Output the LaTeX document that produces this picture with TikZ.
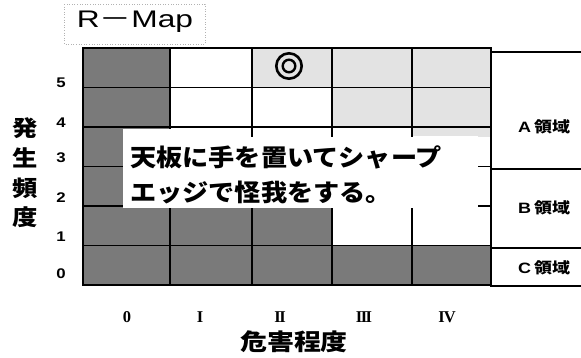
\documentclass[tikz,border=0pt]{standalone}
\usepackage{fontspec}
\usepackage{graphicx}
\setmainfont{Liberation Serif}
\newfontfamily\jp{Noto Sans CJK JP}
\newfontfamily\ar{Liberation Sans}
\newcommand\wx[2]{\scalebox{#1}[1]{#2}}
\tikzset{
  darkcell/.style={fill=black!52, draw=none},
  lightcell/.style={fill=black!11, draw=none},
  gridline/.style={line width=1.8pt, line cap=rect},
  ynum/.style={font=\ar\bfseries\fontsize{14}{14}\selectfont, inner sep=0},
  xnum/.style={font=\bfseries\fontsize{16.5}{16.5}\selectfont, inner sep=0},
  vlab/.style={font=\jp\bfseries\fontsize{22}{22}\selectfont, inner sep=0},
  reglab/.style={font=\bfseries\fontsize{15}{15}\selectfont, inner sep=0},
}
\begin{document}
\begin{tikzpicture}[x=1pt, y=-1pt]
\useasboundingbox (0,0) rectangle (581,357);
% title
\draw[black!30, dotted, line width=0.6pt] (64,4) rectangle (205,44);
\node (title) at (135,22) {\wx{1.32}{\ar\fontsize{24}{24}\selectfont R{\jp －}Map}};
% cells: column 0
\fill[darkcell] (83,48) rectangle (170,285);
% columns I-IV rows 1 and 0
\fill[darkcell] (170,206) rectangle (332,285);
\fill[darkcell] (332,245.5) rectangle (491,285);
% light cells
\fill[lightcell] (252,48) rectangle (491,87.5);
\fill[lightcell] (332,87.5) rectangle (491,127);
\fill[lightcell] (412,127) rectangle (491,137);
% grid lines
\foreach \xx in {83,170,252,332,412,491}
  \draw[gridline] (\xx,48) -- (\xx,285);
\foreach \yy in {48,87.5,127,166.5,206,245.5,285}
  \draw[gridline] (83,\yy) -- (491,\yy);
% white label box
\fill[white] (123,129) rectangle (478,208);
\fill[lightcell] (413,129) rectangle (490,136);
\foreach \xx in {252,332,412}
  \draw[gridline] (\xx,127) -- (\xx,136);
\fill[white] (333,207) rectangle (411,244.5);
\fill[white] (413,207) rectangle (478,244.5);
\node[font=\jp\bfseries\fontsize{24}{35}\selectfont, align=left, anchor=west, inner sep=0] (hazard) at (130,175)
  {\wx{1.09}{天板に手を置いてシャープ}\\\wx{1.09}{エッジで怪我をする。}};
% double circle mark
\node[circle, draw, line width=2.6pt, minimum size=25.4pt, inner sep=0] (dblout) at (289,66) {};
\node[circle, draw, line width=2.4pt, minimum size=12.6pt, inner sep=0] (dblin) at (dblout.center) {};
% right region
\coordinate (ra0) at (491,52);  \coordinate (ra1) at (581,52);
\coordinate (rb0) at (491,169); \coordinate (rb1) at (581,169);
\coordinate (rc0) at (491,248); \coordinate (rc1) at (581,248);
\coordinate (rd0) at (491,286); \coordinate (rd1) at (581,286);
\draw[gridline] (ra0) -- (ra1);
\draw[gridline] (rb0) -- (rb1);
\draw[gridline] (rc0) -- (rc1);
\draw[gridline] (rd0) -- (rd1);
\draw[gridline] (491,48) -- (rd0);
\node[reglab] (regA) at (544,126.5) {\wx{1.2}{\ar A\,{\jp 領域}}};
\node[reglab] (regB) at (544,208) {\wx{1.2}{\ar B\,{\jp 領域}}};
\node[reglab] (regC) at (544,268) {\wx{1.2}{\ar C\,{\jp 領域}}};
% y axis numbers
\node[ynum] (y5) at (61,83) {\wx{1.2}{5}};
\node[ynum] (y4) at (61,123) {\wx{1.2}{4}};
\node[ynum] (y3) at (61,158) {\wx{1.2}{3}};
\node[ynum] (y2) at (61,198) {\wx{1.2}{2}};
\node[ynum] (y1) at (61,237) {\wx{1.2}{1}};
\node[ynum] (y0) at (61,274) {\wx{1.2}{0}};
% y axis label
\node[vlab] (v1) at (25,128) {\wx{1.15}{発}};
\node[vlab] (v2) at (25,158) {\wx{1.15}{生}};
\node[vlab] (v3) at (25,188) {\wx{1.15}{頻}};
\node[vlab] (v4) at (25,217) {\wx{1.15}{度}};
% x axis numerals
\node[xnum] (x0) at (127,317) {0};
\node[xnum] (x1) at (200,317) {I};
\node[xnum] (x2) at (280,317) {I\kern-1.5pt I};
\node[xnum] (x3) at (364,317) {I\kern-1.5pt I\kern-1.5pt I};
\node[xnum] (x4) at (447,317) {I\kern-1pt V};
\node[font=\jp\bfseries\fontsize{23}{23}\selectfont, inner sep=0] (xlab) at (294,342) {\wx{1.17}{危害程度}};
\end{tikzpicture}
\end{document}
